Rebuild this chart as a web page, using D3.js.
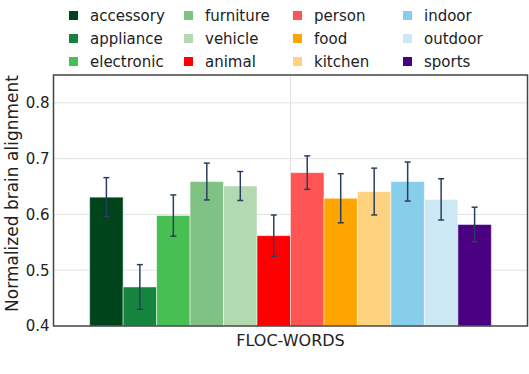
<!DOCTYPE html>
<html>
<head>
<meta charset="utf-8">
<script src="https://cdn.jsdelivr.net/npm/d3@7"></script>
<style>
  body { margin: 0; background: white; }
  text { font-family: "DejaVu Sans", Verdana, sans-serif; fill: #222; }
</style>
</head>
<body>
<div id="chart"></div>
<script>
// chart data
const categories = ["accessory", "appliance", "electronic", "furniture", "vehicle", "animal",
                    "person", "food", "kitchen", "indoor", "outdoor", "sports"];
const values = [0.631, 0.470, 0.598, 0.659, 0.651, 0.562, 0.675, 0.629, 0.641, 0.659, 0.627, 0.582];
const errors = [0.035, 0.040, 0.037, 0.033, 0.026, 0.037, 0.030, 0.044, 0.042, 0.035, 0.037, 0.031];
const colors = ["#00441b", "#15843f", "#47bf53", "#80c283", "#b2d9b0", "#ff0000",
                "#ff5454", "#ffa500", "#ffd280", "#87ceeb", "#cce8f5", "#4b0082"];
const groupName = "FLOC-WORDS";
const yTicks = [0.4, 0.5, 0.6, 0.7, 0.8];

const width = 529;
const height = 374;
const margin = { top: 75, left: 53.5, bottom: 48, right: 1.5 };

var svg = d3.select("#chart")
  .append("svg")
  .attr("width", width)
  .attr("height", height);

var x = d3.scaleBand()
  .domain([groupName])
  .range([margin.left, width - margin.right])
  .paddingInner(0)
  .paddingOuter(0.09);

var xSub = d3.scaleBand()
  .domain(categories)
  .range([0, x.bandwidth()]);

var y = d3.scaleLinear()
  .domain([0.4, 0.85])
  .range([height - margin.bottom, margin.top]);

// gridlines
svg.append("g")
  .selectAll("line")
  .data(yTicks.slice(1))
  .enter()
  .append("line")
  .attr("x1", margin.left)
  .attr("x2", width - margin.right)
  .attr("y1", d => y(d))
  .attr("y2", d => y(d))
  .attr("stroke", "#e3e3e3")
  .attr("stroke-width", 1);

var xCenter = x(groupName) + x.bandwidth() / 2;
svg.append("line")
  .attr("x1", xCenter)
  .attr("x2", xCenter)
  .attr("y1", margin.top)
  .attr("y2", height - margin.bottom)
  .attr("stroke", "#e3e3e3")
  .attr("stroke-width", 1);

// bars
var bars = svg.append("g")
  .selectAll("g")
  .data(categories)
  .enter()
  .append("g");

bars.append("rect")
  .attr("x", d => x(groupName) + xSub(d))
  .attr("y", (d, i) => y(values[i]))
  .attr("width", xSub.bandwidth())
  .attr("height", (d, i) => y(0.4) - y(values[i]))
  .attr("fill", (d, i) => colors[i])
  .attr("stroke", "white")
  .attr("stroke-opacity", 0.5)
  .attr("stroke-width", 1);

// error bars
var errColor = "#2a3f5f";
bars.append("line")
  .attr("x1", d => x(groupName) + xSub(d) + xSub.bandwidth() / 2)
  .attr("x2", d => x(groupName) + xSub(d) + xSub.bandwidth() / 2)
  .attr("y1", (d, i) => y(values[i] + errors[i]))
  .attr("y2", (d, i) => y(values[i] - errors[i]))
  .attr("stroke", errColor)
  .attr("stroke-width", 1.5);

[1, -1].forEach(function(sign) {
  bars.append("line")
    .attr("x1", d => x(groupName) + xSub(d) + xSub.bandwidth() / 2 - 3)
    .attr("x2", d => x(groupName) + xSub(d) + xSub.bandwidth() / 2 + 3)
    .attr("y1", (d, i) => y(values[i] + sign * errors[i]))
    .attr("y2", (d, i) => y(values[i] + sign * errors[i]))
    .attr("stroke", errColor)
    .attr("stroke-width", 1.5);
});

// frame
svg.append("rect")
  .attr("x", margin.left)
  .attr("y", margin.top)
  .attr("width", width - margin.right - margin.left)
  .attr("height", height - margin.bottom - margin.top)
  .attr("fill", "none")
  .attr("stroke", "#444")
  .attr("stroke-width", 1.5);

// y axis
var yAxis = svg.append("g")
  .attr("transform", "translate(" + margin.left + ",0)")
  .call(d3.axisLeft(y).tickValues(yTicks).tickSize(0).tickPadding(4).tickFormat(d3.format(".1f")));
yAxis.select(".domain").remove();
yAxis.selectAll("text")
  .style("font-family", "DejaVu Sans, Verdana, sans-serif")
  .style("font-size", "15px")
  .attr("fill", "#222");

// x axis
var xAxis = svg.append("g")
  .attr("transform", "translate(0," + (height - margin.bottom) + ")")
  .call(d3.axisBottom(x).tickSize(0).tickPadding(9));
xAxis.select(".domain").remove();
xAxis.selectAll("text")
  .style("font-family", "DejaVu Sans, Verdana, sans-serif")
  .style("font-size", "16px")
  .attr("fill", "#222");

// y title
svg.append("text")
  .attr("transform", "translate(18," + ((margin.top + height - margin.bottom) / 2 - 7) + ") rotate(-90)")
  .attr("text-anchor", "middle")
  .style("font-size", "17px")
  .text("Normalized brain alignment");

// legend
var legend = svg.append("g")
  .selectAll("g")
  .data(categories)
  .enter()
  .append("g")
  .attr("transform", function(d, i) {
    var col = Math.floor(i / 3);
    var row = i % 3;
    var colX = [69, 184, 293, 403];
    return "translate(" + colX[col] + "," + (16 + row * 23) + ")";
  });

legend.append("rect")
  .attr("x", 0)
  .attr("y", -5)
  .attr("width", 9)
  .attr("height", 9)
  .attr("fill", (d, i) => colors[i]);

legend.append("text")
  .attr("x", 21)
  .attr("y", 5)
  .style("font-size", "15px")
  .text(d => d);
</script>
</body>
</html>
